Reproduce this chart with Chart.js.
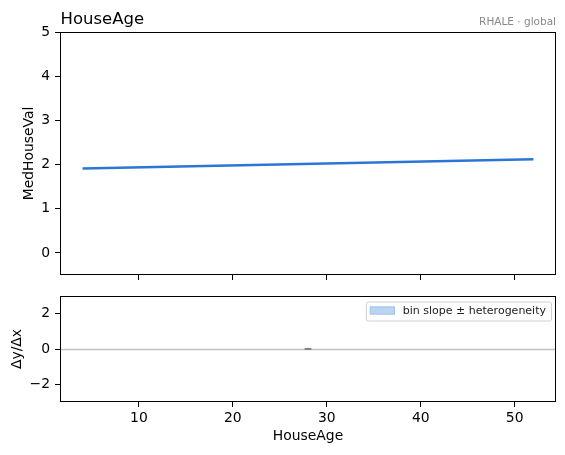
<!DOCTYPE html>
<html>
<head>
<meta charset="utf-8">
<title>HouseAge RHALE</title>
<script src="https://cdn.jsdelivr.net/npm/chart.js@4.4.1/dist/chart.umd.min.js"></script>
<style>
  html, body { margin: 0; padding: 0; background: #fff; }
  #wrap { position: relative; width: 565px; height: 455px; }
  canvas { position: absolute; left: 0; }
  #top { top: 0; }
  #bottom { top: 290px; }
</style>
</head>
<body>
<div id="wrap">
  <canvas id="top" width="565" height="290"></canvas>
  <canvas id="bottom" width="565" height="165"></canvas>
</div>
<script>
// data
const featureName = 'HouseAge';
const methodLabel = 'RHALE \u00b7 global';
const targetName = 'MedHouseVal';
const slopeName = '\u0394y/\u0394x';
const legendText = 'bin slope \u00b1 heterogeneity';

const effectX = [4, 52];
const effectY = [1.91, 2.12];

const binCenters = [28];
const binSlopes = [0.004];

const xTicks = [10, 20, 30, 40, 50];
const xRange = [1.6, 54.4];
const topTicks = [0, 1, 2, 3, 4, 5];
const topRange = [-0.5, 5];
const bottomTicks = [-2, 0, 2];
const bottomRange = [-3, 3];

Chart.defaults.font.family = "'DejaVu Sans', sans-serif";
Chart.defaults.color = '#000';

function minusSign(v) {
    return String(v).replace('-', '\u2212');
}

// full box round the plot area, like matplotlib
const framePlugin = {
    id: 'frame',
    afterDraw(chart) {
        const { ctx, chartArea: a } = chart;
        ctx.save();
        ctx.strokeStyle = '#000';
        ctx.lineWidth = 1;
        ctx.strokeRect(a.left + 0.5, a.top + 0.5, a.right - a.left - 1, a.bottom - a.top - 1);
        ctx.restore();
    }
};

const titlePlugin = {
    id: 'titles',
    afterDraw(chart) {
        const { ctx, chartArea: a } = chart;
        ctx.save();
        ctx.textBaseline = 'alphabetic';
        ctx.fillStyle = '#000';
        ctx.font = "16.5px 'DejaVu Sans'";
        ctx.textAlign = 'left';
        ctx.fillText(featureName, a.left + 0.5, 24);
        ctx.fillStyle = '#888';
        ctx.font = "10.5px 'DejaVu Sans'";
        ctx.textAlign = 'right';
        ctx.fillText(methodLabel, a.right, 25);
        ctx.restore();
    }
};

const zeroLinePlugin = {
    id: 'zeroLine',
    beforeDatasetsDraw(chart) {
        const { ctx, chartArea: a } = chart;
        const y = Math.round(chart.scales.y.getPixelForValue(0)) + 0.5;
        ctx.save();
        ctx.strokeStyle = '#c0c0c0';
        ctx.lineWidth = 1.3;
        ctx.beginPath();
        ctx.moveTo(a.left, y);
        ctx.lineTo(a.right, y);
        ctx.stroke();
        ctx.restore();
    }
};

const legendPlugin = {
    id: 'boxLegend',
    afterDraw(chart) {
        const { ctx, chartArea: a } = chart;
        ctx.save();
        ctx.font = "11px 'DejaVu Sans'";
        const tw = ctx.measureText(legendText).width;
        const w = 4 + 25 + 8 + tw + 5;
        const h = 19;
        const x = a.right - 5 - w;
        const y = a.top + 5.5;
        ctx.fillStyle = 'rgba(255,255,255,0.85)';
        ctx.strokeStyle = '#d0d0d0';
        ctx.lineWidth = 1;
        ctx.beginPath();
        ctx.roundRect(x + 0.5, y + 0.5, w, h, 2);
        ctx.fill();
        ctx.stroke();
        ctx.fillStyle = '#bcd5f2';
        ctx.strokeStyle = '#9fc2ec';
        ctx.fillRect(x + 4, y + 5, 25, 8);
        ctx.strokeRect(x + 4.5, y + 5.5, 24, 7);
        ctx.fillStyle = '#222';
        ctx.textAlign = 'left';
        ctx.textBaseline = 'middle';
        ctx.fillText(legendText, x + 37, y + 10);
        ctx.restore();
    }
};

function xScale(showLabels, height) {
    return {
        type: 'linear',
        min: xRange[0],
        max: xRange[1],
        afterBuildTicks: s => { s.ticks = xTicks.map(v => ({ value: v })); },
        afterFit: s => {
            s.height = height;
            s.paddingLeft = 0;
            s.paddingRight = 0;
        },
        grid: { drawOnChartArea: false, drawTicks: true, tickLength: 5, tickColor: '#000' },
        border: { display: false },
        ticks: { display: showLabels, padding: 3, font: { size: 13.9 }, color: '#000' },
        title: {
            display: showLabels,
            text: featureName,
            font: { size: 13.9 },
            color: '#000',
            padding: { top: 2, bottom: 10 }
        }
    };
}

function yScale(range, ticks, title, titlePad) {
    return {
        type: 'linear',
        min: range[0],
        max: range[1],
        afterBuildTicks: s => { s.ticks = ticks.map(v => ({ value: v })); },
        afterFit: s => {
            s.width = 60;
            s.paddingTop = 0;
            s.paddingBottom = 0;
        },
        grid: { drawOnChartArea: false, drawTicks: true, tickLength: 5, tickColor: '#000' },
        border: { display: false },
        ticks: { padding: 5, font: { size: 13.9 }, color: '#000', callback: v => minusSign(v) },
        title: {
            display: true,
            text: title,
            font: { size: 13.9 },
            color: '#000',
            padding: { top: titlePad, bottom: 0 }
        }
    };
}

// top panel: the accumulated effect
new Chart(document.getElementById('top'), {
    type: 'line',
    data: {
        datasets: [{
            data: effectX.map((x, i) => ({ x: x, y: effectY[i] })),
            borderColor: '#2a76d6',
            borderWidth: 2.5,
            pointRadius: 0,
            fill: false,
            tension: 0
        }]
    },
    options: {
        responsive: false,
        animation: false,
        devicePixelRatio: 1,
        layout: { padding: { top: 32, right: 9, left: 0, bottom: 0 } },
        plugins: { legend: { display: false }, tooltip: { enabled: false } },
        scales: {
            x: xScale(false, 15),
            y: yScale(topRange, topTicks, targetName, 21)
        }
    },
    plugins: [framePlugin, titlePlugin]
});

// bottom panel: bin slopes
new Chart(document.getElementById('bottom'), {
    type: 'scatter',
    data: {
        datasets: [{
            data: binCenters.map((x, i) => ({ x: x, y: binSlopes[i] })),
            pointStyle: 'line',
            pointRadius: 3.3,
            borderColor: '#808080',
            borderWidth: 2,
            backgroundColor: '#808080'
        }]
    },
    options: {
        responsive: false,
        animation: false,
        devicePixelRatio: 1,
        layout: { padding: { top: 6, right: 9, left: 0, bottom: 0 } },
        plugins: { legend: { display: false }, tooltip: { enabled: false } },
        scales: {
            x: xScale(true, 53),
            y: yScale(bottomRange, bottomTicks, slopeName, 9)
        }
    },
    plugins: [zeroLinePlugin, framePlugin, legendPlugin]
});
</script>
</body>
</html>
